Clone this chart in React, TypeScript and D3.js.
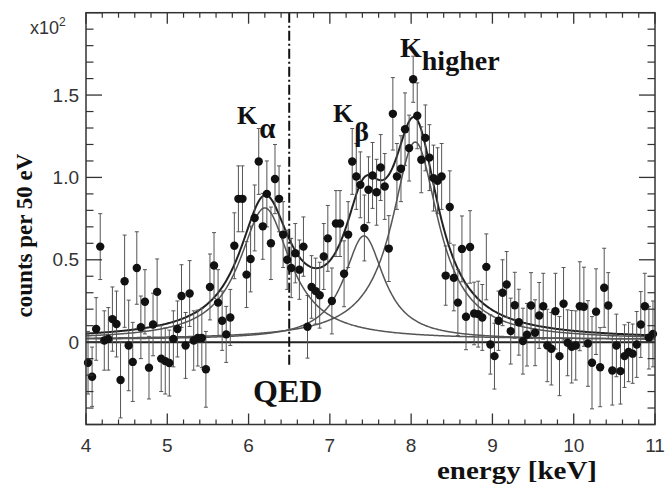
import React from 'react';
import * as d3 from 'd3';

// 50 eV bins starting at 4 keV
const binStart = 4.0;
const binWidth = 0.05;

const counts: number[] = [
  -0.125, -0.21, 0.08, 0.58, 0.01, 0.02, 0.14, 0.11, -0.23, 0.37,
  -0.02, -0.12, 0.45, 0.09, 0.245, -0.155, 0.107, 0.305, -0.1, -0.115,
  -0.127, 0.02, 0.08, 0.28, -0.02, 0.295, 0.01, 0.025, 0.025, -0.165,
  0.335, 0.465, 0.24, 0.13, 0.047, 0.15, 0.585, 0.87, 0.87, 0.41,
  0.505, 0.754, 1.097, 0.703, 0.9, 0.6, 0.99, 0.87, 0.653, 0.5,
  0.45, 0.54, 0.44, 0.58, 0.093, 0.335, 0.31, 0.285, 0.52, 0.63,
  0.25, 0.72, 0.72, 0.415, 0.653, 1.097, 1.006, 0.955, 0.693, 0.925,
  1.012, 0.91, 1.06, 0.945, 0.568, 1.386, 1.006, 1.053, 1.293, 1.178,
  1.596, 1.374, 1.107, 1.24, 1.12, 0.996, 0.98, 1.006, 0.404, 0.82,
  0.39, 0.24, 0.566, 0.154, 0.578, 0.174, 0.17, 0.15, 0.457, -0.014,
  -0.085, 0.13, 0.3, 0.35, 0.067, 0.224, 0.121, 0.006, 0.045, 0.222,
  0.057, 0.162, 0.218, -0.02, -0.04, 0.188, -0.085, 0.233, -0.004, -0.028,
  -0.02, 0.218, 0.215, -0.008, -0.125, 0.185, -0.152, 0.33, 0.222, -0.172,
  -0.02, -0.176, -0.085, -0.06, -0.07, -0.014, 0.107, 0.218, 0.027, 0.05,
];

const errors: number[] = [
  0.19, 0.18, 0.19, 0.2, 0.18, 0.19, 0.195, 0.2, 0.23, 0.28,
  0.275, 0.24, 0.22, 0.19, 0.195, 0.19, 0.19, 0.2, 0.2, 0.2,
  0.2, 0.17, 0.17, 0.19, 0.2, 0.2, 0.18, 0.17, 0.18, 0.23,
  0.2, 0.2, 0.2, 0.18, 0.17, 0.17, 0.2, 0.2, 0.2, 0.2,
  0.2, 0.2, 0.2, 0.2, 0.2, 0.22, 0.21, 0.2, 0.2, 0.18,
  0.18, 0.18, 0.18, 0.18, 0.19, 0.19, 0.2, 0.2, 0.2, 0.2,
  0.2, 0.2, 0.2, 0.2, 0.2, 0.2, 0.2, 0.2, 0.2, 0.2,
  0.2, 0.2, 0.2, 0.2, 0.2, 0.22, 0.2, 0.2, 0.22, 0.2,
  0.14, 0.2, 0.2, 0.2, 0.2, 0.2, 0.2, 0.2, 0.18, 0.22,
  0.2, 0.2, 0.2, 0.2, 0.22, 0.19, 0.2, 0.2, 0.2, 0.18,
  0.2, 0.18, 0.2, 0.2, 0.2, 0.2, 0.2, 0.2, 0.19, 0.2,
  0.2, 0.2, 0.2, 0.22, 0.22, 0.23, 0.24, 0.22, 0.2, 0.22,
  0.21, 0.27, 0.24, 0.26, 0.28, 0.26, 0.24, 0.24, 0.2, 0.21,
  0.19, 0.2, 0.19, 0.18, 0.18, 0.2, 0.2, 0.2, 0.19, 0.2,
];

// Fit components (Lorentzian lines)
const peakCenters = [6.2, 7.42, 8.05];
const peakAmps = [0.8, 0.63, 1.2];
const peakWidths = [0.38, 0.3, 0.35];
const background = 0.015;

const xTicks = [4, 5, 6, 7, 8, 9, 10, 11];
const yTickValues = [0, 0.5, 1.0, 1.5];
const yTickLabels = ['0', '0.5', '1.0', '1.5'];
const qedEnergy = 6.5;

const W = 669;
const H = 490;
const L = 86;
const R = 655;
const T = 12.7;
const B = 424.5;

const sans = '"Liberation Sans", Arial, Helvetica, sans-serif';
const serif = '"Liberation Serif", "Times New Roman", serif';

export default function App() {
  const x = d3.scaleLinear().domain([4, 11]).range([L, R]);
  const y = d3.scaleLinear().domain([-0.5, 2.0]).range([B, T]);

  const lor = (e: number, i: number) =>
    peakAmps[i] / (1 + Math.pow((e - peakCenters[i]) / peakWidths[i], 2));

  const grid = d3.range(4, 11.0001, 0.01);
  const line = d3
    .line<[number, number]>()
    .x((d) => x(d[0]))
    .y((d) => y(d[1]))
    .curve(d3.curveLinear);

  const compPaths = peakCenters.map((_, i) =>
    line(grid.map((e) => [e, background + lor(e, i)] as [number, number]))
  );
  const sumPath = line(
    grid.map(
      (e) =>
        [e, background + peakCenters.reduce((s, _, i) => s + lor(e, i), 0)] as [
          number,
          number
        ]
    )
  );

  const xMinor = d3.range(4, 11.0001, 0.2).filter((v) => Math.abs(v - Math.round(v)) > 1e-6);
  const yMinor = d3.range(-0.5, 2.0001, 0.1).filter(
    (v) => Math.abs(v * 2 - Math.round(v * 2)) > 1e-6
  );
  const yMajor = d3.range(-0.5, 2.0001, 0.5);

  const energies = counts.map((_, i) => binStart + binWidth * (i + 0.5));

  const tickColor = '#333';

  return (
    <svg
      width={W}
      height={H}
      style={{ position: 'absolute', left: 0, top: 0, background: '#fff' }}
    >
      <rect x={0} y={0} width={W} height={H} fill="#fff" />

      {/* zero line */}
      <line x1={L} x2={R} y1={y(0)} y2={y(0)} stroke="#222" strokeWidth={2} />

      {/* fit components */}
      {compPaths.map((p, i) => (
        <path key={i} d={p || ''} fill="none" stroke="#555" strokeWidth={1.5} />
      ))}
      <path d={sumPath || ''} fill="none" stroke="#222" strokeWidth={2} />

      {/* QED dash-dot line */}
      <line
        x1={x(qedEnergy)}
        x2={x(qedEnergy)}
        y1={T}
        y2={367}
        stroke="#111"
        strokeWidth={2}
        strokeDasharray="10,3,2,3"
      />

      {/* error bars */}
      {counts.map((c, i) => {
        const ex = x(energies[i]);
        const y1 = y(c + errors[i]);
        const y2 = y(c - errors[i]);
        return (
          <g key={'e' + i} stroke="#555" strokeWidth={1}>
            <line x1={ex} x2={ex} y1={y1} y2={y2} />
            <line x1={ex - 2} x2={ex + 2} y1={y1} y2={y1} />
            <line x1={ex - 2} x2={ex + 2} y1={y2} y2={y2} />
          </g>
        );
      })}

      {/* points */}
      {counts.map((c, i) => (
        <circle key={'p' + i} cx={x(energies[i])} cy={y(c)} r={4.2} fill="#111" />
      ))}

      {/* frame */}
      <rect
        x={L}
        y={T}
        width={R - L}
        height={B - T}
        fill="none"
        stroke={tickColor}
        strokeWidth={1.5}
      />

      {/* x ticks */}
      {xTicks.map((v) => (
        <g key={'xt' + v} stroke={tickColor} strokeWidth={1.3}>
          <line x1={x(v)} x2={x(v)} y1={B} y2={B - 11} />
          <line x1={x(v)} x2={x(v)} y1={T} y2={T + 11} />
        </g>
      ))}
      {xMinor.map((v, i) => (
        <g key={'xm' + i} stroke={tickColor} strokeWidth={1.2}>
          <line x1={x(v)} x2={x(v)} y1={B} y2={B - 5} />
          <line x1={x(v)} x2={x(v)} y1={T} y2={T + 5} />
        </g>
      ))}
      {/* y ticks */}
      {yMajor.map((v, i) => (
        <g key={'ym' + i} stroke={tickColor} strokeWidth={1.3}>
          <line x1={L} x2={L + 16} y1={y(v)} y2={y(v)} />
          <line x1={R} x2={R - 16} y1={y(v)} y2={y(v)} />
        </g>
      ))}
      {yMinor.map((v, i) => (
        <g key={'yn' + i} stroke={tickColor} strokeWidth={1.2}>
          <line x1={L} x2={L + 7.5} y1={y(v)} y2={y(v)} />
          <line x1={R} x2={R - 7.5} y1={y(v)} y2={y(v)} />
        </g>
      ))}

      {/* tick labels */}
      {xTicks.map((v) => (
        <text
          key={'xl' + v}
          x={x(v)}
          y={452}
          textAnchor="middle"
          fontFamily={sans}
          fontSize={19}
          fill="#333"
        >
          {v}
        </text>
      ))}
      {yTickValues.map((v, i) => (
        <text
          key={'yl' + i}
          x={79}
          y={y(v)}
          dy="0.35em"
          textAnchor="end"
          fontFamily={sans}
          fontSize={19}
          fill="#333"
        >
          {yTickLabels[i]}
        </text>
      ))}
      <text x={30} y={34} fontFamily={sans} fontSize={18} fill="#333">
        x10
        <tspan fontSize={12} dy={-8}>
          2
        </tspan>
      </text>

      {/* axis titles */}
      <text
        transform={`translate(32, 235.5) rotate(-90)`}
        textAnchor="middle"
        fontFamily={serif}
        fontWeight="bold"
        fontSize={23}
        fill="#111"
      >
        counts per 50 eV
      </text>
      <text
        x={437}
        y={479}
        textLength={160}
        lengthAdjust="spacingAndGlyphs"
        fontFamily={serif}
        fontWeight="bold"
        fontSize={25}
        fill="#111"
      >
        energy [keV]
      </text>

      {/* peak labels */}
      <text x={237} y={124} fontFamily={serif} fontWeight="bold" fontSize={26} fill="#111">
        K
        <tspan fontSize={29} dx={2} dy={14}>
          α
        </tspan>
      </text>
      <text x={333} y={122} fontFamily={serif} fontWeight="bold" fontSize={26} fill="#111">
        K
        <tspan fontSize={28} dx={1} dy={19}>
          β
        </tspan>
      </text>
      <text x={400} y={57} fontFamily={serif} fontWeight="bold" fontSize={28} fill="#111">
        K
        <tspan dy={13}>higher</tspan>
      </text>
      <text x={253} y={402} fontFamily={serif} fontWeight="bold" fontSize={32} fill="#111">
        QED
      </text>
    </svg>
  );
}
